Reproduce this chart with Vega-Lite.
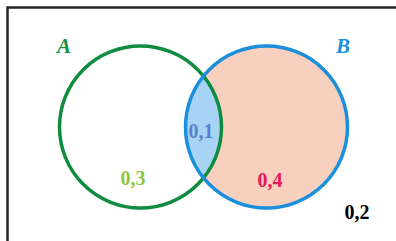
{
  "$schema": "https://vega.github.io/schema/vega-lite/v6.json",
  "width": 396,
  "height": 241,
  "autosize": {"type": "none"},
  "padding": 0,
  "background": "white",
  "config": {"view": {"stroke": null}},
  "datasets": {
    "frame": [{"x": 7.5, "x2": 430, "y": 7.5, "y2": 270}],
    "circles": [
      {"set": "A", "cx": 140.5, "cy": 127},
      {"set": "B", "cx": 266.5, "cy": 127}
    ],
    "lens": [{"cx": 203.5, "cy": 127}],
    "labels": [
      {"text": "A", "x": 64, "y": 53, "color": "A"},
      {"text": "B", "x": 343, "y": 53, "color": "B"},
      {"text": "0,1", "x": 201, "y": 138, "color": "AB"},
      {"text": "0,3", "x": 133, "y": 185, "color": "Aonly"},
      {"text": "0,4", "x": 270, "y": 187, "color": "Bonly"},
      {"text": "0,2", "x": 357, "y": 219, "color": "none"}
    ]
  },
  "encoding": {
    "x": {"type": "quantitative", "scale": {"domain": [0, 396], "nice": false, "zero": false}, "axis": null},
    "y": {"type": "quantitative", "scale": {"domain": [0, 241], "nice": false, "zero": false, "reverse": true}, "axis": null}
  },
  "layer": [
    {
      "data": {"name": "frame"},
      "mark": {"type": "rect", "fill": null, "stroke": "#262626", "strokeWidth": 2.5},
      "encoding": {
        "x": {"field": "x", "type": "quantitative"},
        "x2": {"field": "x2"},
        "y": {"field": "y", "type": "quantitative"},
        "y2": {"field": "y2"}
      }
    },
    {
      "data": {"name": "circles"},
      "transform": [{"filter": "datum.set === 'B'"}],
      "mark": {"type": "point", "shape": "circle", "filled": true, "fill": "#f8d0c0", "opacity": 1, "strokeWidth": 0},
      "encoding": {
        "x": {"field": "cx", "type": "quantitative"},
        "y": {"field": "cy", "type": "quantitative"},
        "size": {"value": 26244}
      }
    },
    {
      "data": {"name": "lens"},
      "mark": {"type": "point", "shape": "M0,-0.628 A1,1 0 0,1 0,0.628 A1,1 0 0,1 0,-0.628 Z", "filled": true, "fill": "#a7d4f5", "opacity": 1, "strokeWidth": 0},
      "encoding": {
        "x": {"field": "cx", "type": "quantitative"},
        "y": {"field": "cy", "type": "quantitative"},
        "size": {"value": 26244}
      }
    },
    {
      "data": {"name": "circles"},
      "transform": [{"filter": "datum.set === 'A'"}],
      "mark": {"type": "point", "shape": "circle", "filled": false, "stroke": "#0f8c3e", "opacity": 1, "strokeWidth": 3.5},
      "encoding": {
        "x": {"field": "cx", "type": "quantitative"},
        "y": {"field": "cy", "type": "quantitative"},
        "size": {"value": 26244}
      }
    },
    {
      "data": {"name": "circles"},
      "transform": [{"filter": "datum.set === 'B'"}],
      "mark": {"type": "point", "shape": "circle", "filled": false, "stroke": "#1a90dc", "opacity": 1, "strokeWidth": 3.5},
      "encoding": {
        "x": {"field": "cx", "type": "quantitative"},
        "y": {"field": "cy", "type": "quantitative"},
        "size": {"value": 26244}
      }
    },
    {
      "data": {"name": "labels"},
      "transform": [{"filter": "datum.color === 'A' || datum.color === 'B'"}],
      "mark": {"type": "text", "font": "Liberation Serif", "fontWeight": "bold", "fontStyle": "italic", "fontSize": 21, "baseline": "alphabetic", "align": "center"},
      "encoding": {
        "x": {"field": "x", "type": "quantitative"},
        "y": {"field": "y", "type": "quantitative"},
        "text": {"field": "text"},
        "color": {
          "field": "color", "type": "nominal", "legend": null,
          "scale": {"domain": ["A", "B", "AB", "Aonly", "Bonly", "none"], "range": ["#119447", "#1a8fdc", "#5a82cc", "#8cc63f", "#e8185a", "#000000"]}
        }
      }
    },
    {
      "data": {"name": "labels"},
      "transform": [{"filter": "datum.color !== 'A' && datum.color !== 'B'"}],
      "mark": {"type": "text", "font": "Liberation Serif", "fontWeight": "bold", "fontSize": 20, "baseline": "alphabetic", "align": "center"},
      "encoding": {
        "x": {"field": "x", "type": "quantitative"},
        "y": {"field": "y", "type": "quantitative"},
        "text": {"field": "text"},
        "color": {
          "field": "color", "type": "nominal", "legend": null,
          "scale": {"domain": ["A", "B", "AB", "Aonly", "Bonly", "none"], "range": ["#119447", "#1a8fdc", "#5a82cc", "#8cc63f", "#e8185a", "#000000"]}
        }
      }
    }
  ]
}
